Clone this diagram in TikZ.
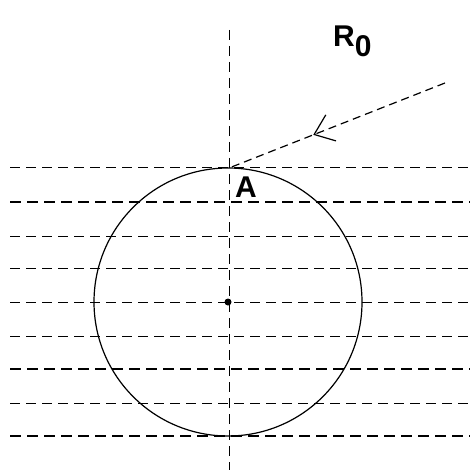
\documentclass[tikz,border=0pt]{standalone}
\usepackage{fontspec}
\setmainfont{Liberation Sans}
\usetikzlibrary{arrows.meta,decorations.markings}
\begin{document}
\begin{tikzpicture}[x=1pt,y=-1pt,
  thinline/.style={line width=1pt,dash pattern=on 10pt off 6pt},
  thickline/.style={line width=2.6pt,dash pattern=on 11pt off 6pt},
  lbl/.style={font=\fontsize{30}{30}\selectfont\bfseries,inner sep=0pt}]
\useasboundingbox[fill=white] (0,0) rectangle (470,470);
% horizontal lines
\foreach \yy in {168,236,268,302,336,403}{
  \draw[thinline] (10,\yy) -- (470,\yy);
}
\foreach \yy in {202,369,436}{
  \draw[thickline] (10,\yy) -- (470,\yy);
}
% vertical axis
\coordinate (vtop) at (229,30);
\coordinate (vbot) at (229,470);
\draw[thinline] (vtop) -- (vbot);
% circle
\coordinate (O) at (228,302);
\draw[line width=1.2pt] (O) circle (134);
\fill (O) circle (3.5);
% point A and ray
\coordinate (Apt) at (229,168);
\coordinate (Rstart) at (445,83);
\draw[line width=1.2pt,dash pattern=on 8pt off 5pt,
  decoration={markings,mark=at position 0.61 with {\arrow[solid,line width=1.2pt]{Straight Barb[length=18pt,width=28pt]}}},
  postaction={decorate}] (Rstart) -- (Apt);
\node[lbl,anchor=north west] (A) at (235,177) {A};
\node[lbl,anchor=north west] (R0) at (333,26) {R\raisebox{-10pt}{0}};
\end{tikzpicture}
\end{document}
